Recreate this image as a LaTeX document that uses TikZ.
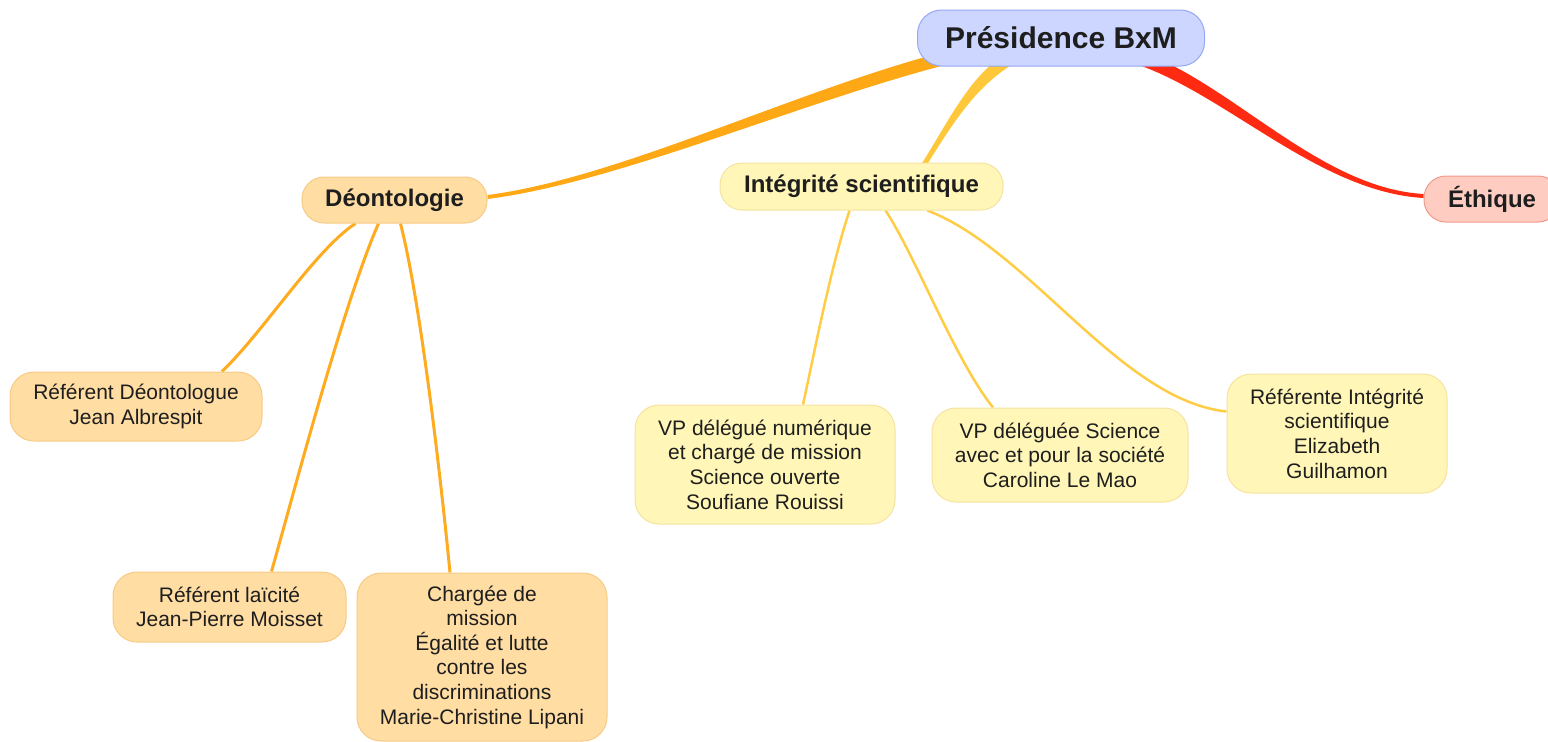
\documentclass[tikz,border=0pt]{standalone}
\usepackage{fontspec}
\setmainfont{Liberation Sans}
\usepackage{xcolor}
\usepackage{tikz}
\usetikzlibrary{calc}
\usetikzlibrary{backgrounds}

\definecolor{presfill}{HTML}{CCD6FF}
\definecolor{presline}{HTML}{95A8F5}
\definecolor{deonfill}{HTML}{FFDDA3}
\definecolor{deonline}{HTML}{F7CB85}
\definecolor{integfill}{HTML}{FFF6B8}
\definecolor{integline}{HTML}{F5E3A0}
\definecolor{ethfill}{HTML}{FFCCC2}
\definecolor{ethline}{HTML}{F09A8A}
\definecolor{brorange}{HTML}{FFA815}
\definecolor{bryellow}{HTML}{FFC83A}
\definecolor{brred}{HTML}{FF2A12}
\definecolor{lnorange}{HTML}{FFAB20}
\definecolor{lnyellow}{HTML}{FFCD45}
\definecolor{txt}{HTML}{1E1E1E}

% tapered main branch: colour, start, control 1, control 2, end, half width at start, half width at end
\newcommand{\taperbranch}[7]{%
  \fill[#1] ($(#2)+(#6)$) .. controls ($(#3)+(#6)$) and ($(#4)+(#7)$) .. ($(#5)+(#7)$)
    -- ($(#5)-(#7)$) .. controls ($(#4)-(#7)$) and ($(#3)-(#6)$) .. ($(#2)-(#6)$) -- cycle;}

\begin{document}
\begin{tikzpicture}[x=0.5pt,y=-0.5pt,
  box/.style={draw, line width=0.5pt, rounded corners=12pt, align=center, inner sep=0pt, text=txt},
  rootbox/.style={box, fill=presfill, draw=presline, font=\bfseries\fontsize{15}{18}\selectfont},
  topicbox/.style={box, rounded corners=11pt, font=\bfseries\fontsize{12}{14}\selectfont},
  leafbox/.style={box, font=\fontsize{10.5}{12.3}\selectfont},
  deonline/.style={draw=lnorange, line width=1.5pt},
  integline/.style={draw=lnyellow, line width=1.25pt}]
\useasboundingbox (0,0) rectangle (1548,741);

% root and topics
\node[rootbox, minimum width=143.5pt, minimum height=28pt] (pres) at (1061,38) {Présidence BxM};
\node[topicbox, fill=deonfill, draw=deonline, minimum width=92.5pt, minimum height=23pt] (deon) at (394.5,200) {Déontologie};
\node[topicbox, fill=integfill, draw=integline, minimum width=141.5pt, minimum height=23.5pt] (integ) at (861.5,186.5) {Intégrité scientifique};
\node[topicbox, fill=ethfill, draw=ethline, minimum width=68pt, minimum height=23pt] (eth) at (1492,199) {Éthique};

% Deontologie leaves
\node[leafbox, fill=deonfill, draw=deonline, minimum width=126pt, minimum height=34.5pt] (refdeon) at (136,406.5) {Référent Déontologue\\Jean Albrespit};
\node[leafbox, fill=deonfill, draw=deonline, minimum width=116.5pt, minimum height=35pt] (laic) at (229.5,607) {Référent laïcité\\Jean-Pierre Moisset};
\node[leafbox, fill=deonfill, draw=deonline, minimum width=125pt, minimum height=84pt] (charg) at (482,657) {Chargée de\\mission\\Égalité et lutte\\contre les\\discriminations\\Marie-Christine Lipani};

% Integrite leaves
\node[leafbox, fill=integfill, draw=integline, minimum width=130pt, minimum height=59.5pt] (vpnum) at (765,464.5) {VP délégué numérique\\et chargé de mission\\Science ouverte\\Soufiane Rouissi};
\node[leafbox, fill=integfill, draw=integline, minimum width=128pt, minimum height=47pt] (vpsci) at (1060,455) {VP déléguée Science\\avec et pour la société\\Caroline Le Mao};
\node[leafbox, fill=integfill, draw=integline, minimum width=110pt, minimum height=59.5pt] (refint) at (1337,433.5) {Référente Intégrité\\scientifique\\Elizabeth\\Guilhamon};

\begin{scope}[on background layer]
% main branches
\coordinate (a0) at ($(deon.east)+(0,-3)$);
\coordinate (a3) at ($(pres.south west)+(35,-10)$);
\taperbranch{brorange}{a0}{620,180}{800,95}{a3}{0,2}{1.6,6.3}
\coordinate (b0) at ($(integ.north)+(62,3)$);
\coordinate (b3) at ($(pres.south)+(-45,-12)$);
\taperbranch{bryellow}{b0}{955,115}{975,78}{b3}{2.1,1.3}{3.3,5.6}
\coordinate (c0) at ($(pres.south east)+(-65,-8)$);
\coordinate (c3) at ($(eth.west)+(0,-3)$);
\taperbranch{brred}{c0}{1230,90}{1320,190}{c3}{-2,6.2}{0,2}

% leaf lines
\draw[deonline] ($(deon.south)+(-39,0)$) .. controls (315,250) and (265,330) .. ($(refdeon.north)+(86,0)$);
\draw[deonline] ($(deon.south)+(-16,0)$) .. controls (345,300) and (300,470) .. ($(laic.north)+(42,0)$);
\draw[deonline] ($(deon.south)+(6,0)$) .. controls (420,300) and (440,470) .. ($(charg.north)+(-32,0)$);
\draw[integline] ($(integ.south)+(-12,0)$) .. controls (830,270) and (815,350) .. ($(vpnum.north)+(38,0)$);
\draw[integline] ($(integ.south)+(24,0)$) .. controls (915,255) and (955,360) .. ($(vpsci.north)+(-67,0)$);
\draw[integline] ($(integ.south)+(66,0)$) .. controls (1030,250) and (1120,400) .. ($(refint.west)+(0,-22)$);
\end{scope}
\end{tikzpicture}
\end{document}
